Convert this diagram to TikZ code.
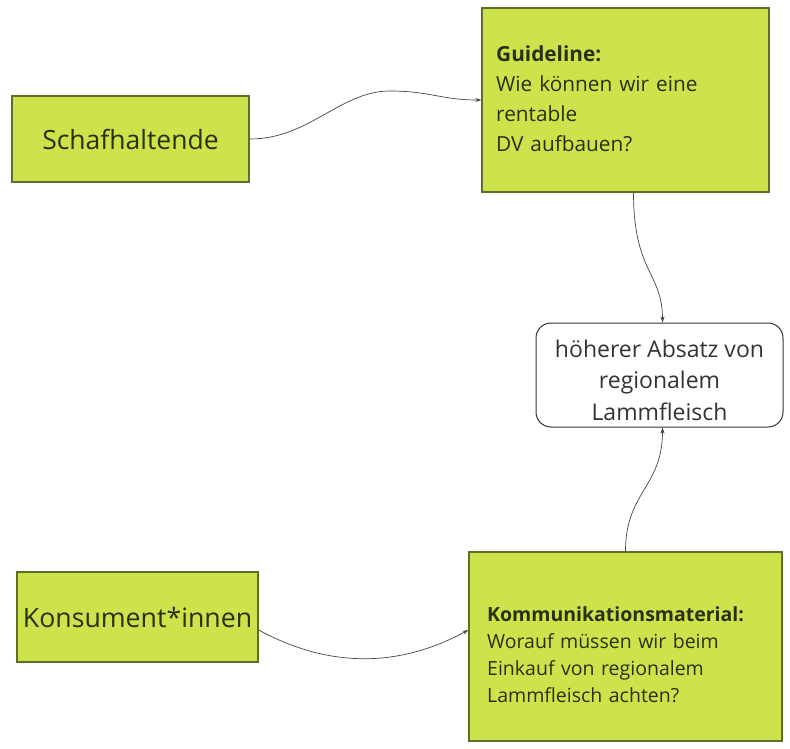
\documentclass[tikz,border=0pt]{standalone}
\usepackage{fontspec}
\setmainfont{Open Sans}
\usetikzlibrary{arrows.meta,calc}
\definecolor{lime}{HTML}{CEE34B}
\definecolor{olive}{HTML}{5F6E2A}
\definecolor{txtg}{HTML}{2A3012}
\definecolor{txtd}{HTML}{333333}
\definecolor{conn}{HTML}{444444}
\tikzset{
  greenbox/.style={draw=olive, line width=1.2pt, fill=lime, text=txtg, inner sep=0pt},
  roundbox/.style={draw=txtd, line width=1pt, fill=white, rounded corners=15pt, text=txtd, inner sep=0pt, align=center},
  boxtext/.style={inner sep=0pt, text=txtg, align=left},
  conarrow/.style={draw=conn, line width=0.7pt, -{Stealth[length=6pt,width=4pt]}}
}
\begin{document}
\begin{tikzpicture}[x=1pt,y=-1pt]
\useasboundingbox (0,0) rectangle (790,748);
\node[greenbox, minimum width=237pt, minimum height=86pt, font=\fontsize{26.5}{30}\selectfont] (sch) at (130.5,139) {Schafhaltende};
\node[greenbox, minimum width=287pt, minimum height=184pt] (guide) at (625.5,100) {};
\node[boxtext, text width=265pt, anchor=west, font=\fontsize{20.8}{30}\selectfont] (guidetxt) at (496,99) {\textbf{Guideline:}\\Wie können wir eine\\rentable\\DV aufbauen?};
\node[roundbox, minimum width=247pt, minimum height=104pt] (abs) at (659.5,375) {};
\node[inner sep=0pt, text=txtd, align=center, font=\fontsize{23}{31.5}\selectfont] (abstxt) at (659.5,380) {höherer Absatz von\\regionalem\\Lammfleisch};
\node[greenbox, minimum width=241pt, minimum height=90pt, font=\fontsize{26.7}{30}\selectfont] (kons) at (137.5,617) {Konsument*innen};
\node[greenbox, minimum width=313pt, minimum height=189pt] (komm) at (625.5,646.5) {};
\node[boxtext, text width=290pt, anchor=west, font=\fontsize{19.5}{27}\selectfont] (kommtxt) at (487,655) {\textbf{Kommunikationsmaterial:}\\Worauf müssen wir beim\\Einkauf von regionalem\\Lammfleisch achten?};
\draw[conarrow] (sch.east) .. controls +(60,0) and +(-50,0) .. (390,91) .. controls +(40,0) and +(-40,0) .. (guide.west);
\draw[conarrow] ([xshift=8pt]guide.south) .. controls +(0,80) and +(0,-50) .. ([xshift=3pt]abs.north);
\draw[conarrow] (komm.north) .. controls +(0,-60) and +(0,60) .. ([xshift=3pt]abs.south);
\draw[conarrow] ([yshift=-13pt]kons.east) .. controls +(70,38) and +(-70,38) .. ([yshift=16.5pt]komm.west);
\end{tikzpicture}
\end{document}
